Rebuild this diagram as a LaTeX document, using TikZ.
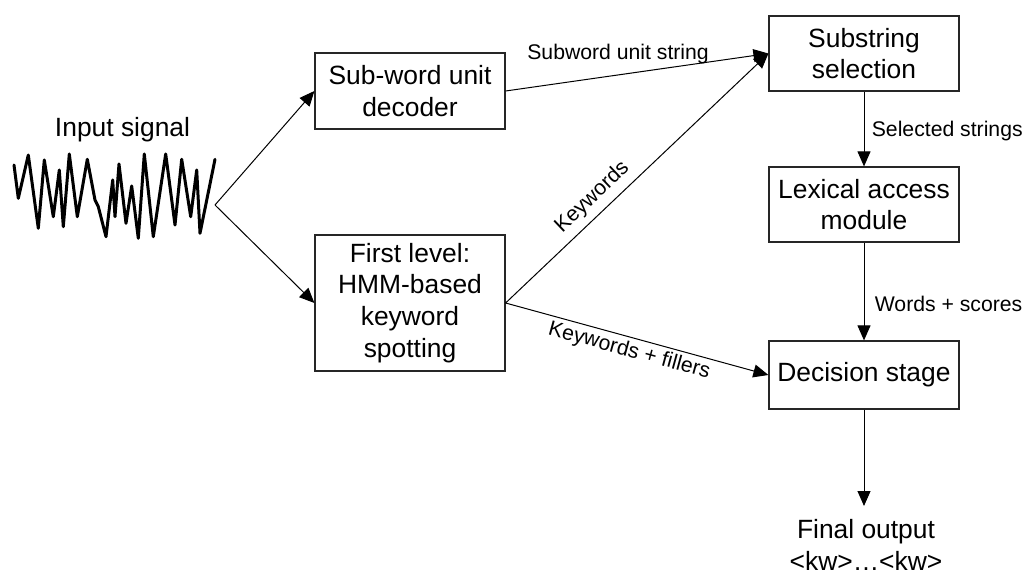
\documentclass[tikz,border=0pt]{standalone}
\usepackage{fontspec}
\setmainfont{Liberation Sans}
\usetikzlibrary{arrows.meta}
\begin{document}
\begin{tikzpicture}[x=1pt,y=-1pt,
  blk/.style={draw=black!85, line width=1.2pt, inner sep=0pt, align=center,
    font=\fontsize{26.4}{31.7}\selectfont},
  big/.style={font=\fontsize{26.4}{31.7}\selectfont, inner sep=0pt, align=center},
  lbl/.style={font=\fontsize{21.2}{25}\selectfont},
  conn/.style={draw=black, line width=1pt, -{Triangle[length=15pt,width=13pt]}},
  wave/.style={line width=3pt, line join=round, line cap=round}]
\useasboundingbox (0,0) rectangle (1028,572);

% nodes
\node[big, anchor=base] (input) at (122.5,137) {Input signal};
\node[blk, minimum width=190pt, minimum height=76pt] (sub) at (410,91) {Sub-word unit\\decoder};
\node[blk, minimum width=190pt, minimum height=136pt] (first) at (410,303) {First level:\\HMM-based\\keyword\\spotting};
\node[blk, minimum width=190pt, minimum height=75pt] (sel) at (864,53.5) {Substring\\selection};
\node[blk, minimum width=190pt, minimum height=75pt] (lex) at (864,204.5) {Lexical access\\module};
\node[blk, minimum width=190pt, minimum height=68pt] (dec) at (864,375) {Decision stage};
\node[big, anchor=north, inner ysep=13pt] (out) at (866,506) {Final output\\<kw>…<kw>};

% waveform
\draw[wave] (14,165) -- (18.3,198.3) -- (28.3,155) -- (38.3,228.3) -- (44.3,160)
  -- (53.3,216.7) -- (59.3,170) -- (63.3,226.7) -- (69.3,154) -- (77.3,216.7)
  -- (87.3,159.3) -- (95,200) -- (98.3,206.7) -- (106,236.7) -- (112.7,180)
  -- (115,216.7) -- (119,164) -- (126,223.3) -- (131.7,186) -- (138.3,238.3)
  -- (144.3,154) -- (153.3,236.7) -- (165.7,154) -- (175,225) -- (181.7,159.3)
  -- (190.7,216.7) -- (196.7,170) -- (200,233.3) -- (215,159.3);

\coordinate (fork) at (215,205);

% connectors
\draw[conn] (fork) -- (sub.west);
\draw[conn] (fork) -- (first.west);
\draw[conn] (sub.east) -- node[lbl, pos=0.428, above=7pt] (lsub) {Subword unit string} (sel.west);
\draw[conn] (first.east) -- node[lbl, pos=0.374, above=3pt, sloped] (lkw) {Keywords} (sel.west);
\draw[conn] (first.east) -- node[lbl, pos=0.484, below, sloped] (lkf) {Keywords + fillers} (dec.west);
\draw[conn] (sel.south) -- node[lbl, pos=0.53, right=4pt] (lsel) {Selected strings} (lex.north);
\draw[conn] (lex.south) -- node[lbl, pos=0.63, right=7pt] (lws) {Words + scores} (dec.north);
\draw[conn] (dec.south) -- (dec.south |- out.north);
\end{tikzpicture}
\end{document}
